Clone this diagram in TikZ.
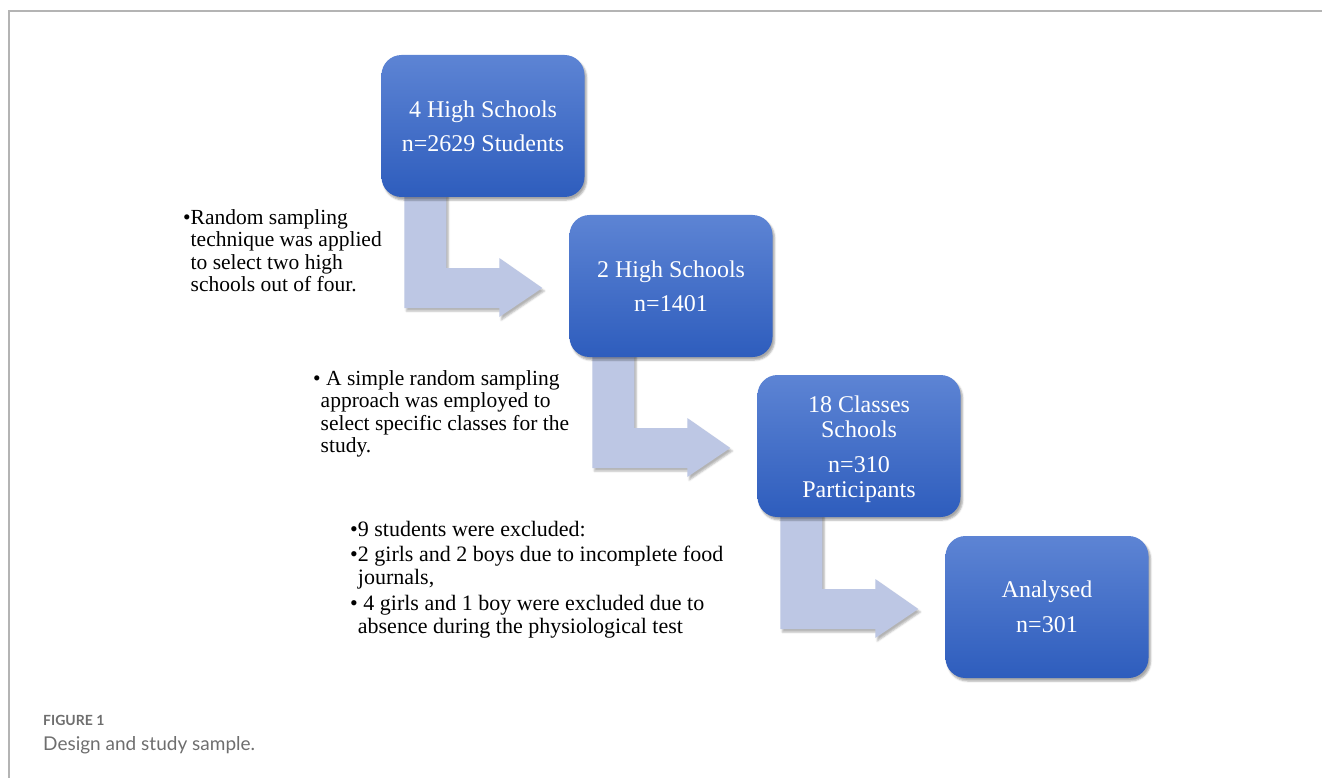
\documentclass[tikz,border=0pt]{standalone}
\usepackage{fontspec}
\setmainfont{Liberation Serif}
\newfontfamily\capfont{Lato}
\usetikzlibrary{calc,shadows,shadows.blur,backgrounds}

\definecolor{boxtop}{HTML}{5D84D4}
\definecolor{boxbot}{HTML}{2E5DBD}
\definecolor{arrowfill}{HTML}{BDC7E4}
\definecolor{framegray}{HTML}{B4B4B4}
\definecolor{capgray}{HTML}{6E6E6E}

\tikzset{
  stagebox/.style={rectangle, rounded corners=20pt, minimum width=203pt,
    minimum height=142pt, inner sep=0pt, top color=boxtop, bottom color=boxbot,
    blur shadow={shadow xshift=2pt, shadow yshift=-3pt, shadow opacity=35},
    text=white, align=center, font=\fontsize{24}{25}\selectfont},
  note/.style={anchor=north west, inner sep=0pt, align=left,
    font=\fontsize{21.5}{22.5}\selectfont},
  flowarrow/.style={fill=arrowfill,
    blur shadow={shadow xshift=2pt, shadow yshift=-3pt, shadow opacity=30}}
}

% bent block arrow from box #1 down and right to box #2
\newcommand\bentarrow[2]{%
  \fill[flowarrow] let \p1=(#1.south west), \p2=(#2.west) in
    (\x1+23pt,\y1+4pt) -- (\x1+65pt,\y1+4pt) -- (\x1+65pt,\y2+18pt)
    -- (\x2-70pt,\y2+18pt) -- (\x2-70pt,\y2+28pt) -- (\x2-27pt,\y2-2pt)
    -- (\x2-70pt,\y2-31pt) -- (\x2-70pt,\y2-22pt) -- (\x1+23pt,\y2-22pt) -- cycle;}

\begin{document}
\begin{tikzpicture}[x=1pt, y=-1pt]
  \useasboundingbox (0,0) rectangle (1322,778);
  \draw[framegray, line width=1.6pt] (9,778) -- (9,11) -- (1322,11);

  \node[stagebox] (b1) at (483,126) {4 High Schools\\[9pt] n=2629 Students};
  \node[stagebox] (b2) at (671,286) {2 High Schools\\[9pt] n=1401};
  \node[stagebox] (b3) at (859,446) {\rule{0pt}{23pt}18 Classes\\Schools\\[10pt] n=310\\Participants};
  \node[stagebox] (b4) at (1047,607) {Analysed\\[10pt] n=301};

  \begin{scope}[on background layer]
    \bentarrow{b1}{b2}
    \bentarrow{b2}{b3}
    \bentarrow{b3}{b4}
  \end{scope}

  \node[note] (t1) at (183,209) {\textbullet Random sampling\\
    \phantom{\textbullet}technique was applied\\
    \phantom{\textbullet}to select two high\\
    \phantom{\textbullet}schools out of four.};
  \node[note] (t2) at (313,370) {\textbullet\ A simple random sampling\\
    \phantom{\textbullet}approach was employed to\\
    \phantom{\textbullet}select specific classes for the\\
    \phantom{\textbullet}study.};
  \node[note, font=\fontsize{22}{22.5}\selectfont] (t3) at (350,521) {\textbullet 9 students were excluded:\\[3pt]
    \textbullet 2 girls and 2 boys due to incomplete food\\
    \phantom{\textbullet}journals,\\[4pt]
    \textbullet\ 4 girls and 1 boy were excluded due to\\
    \phantom{\textbullet}absence during the physiological test};

  % caption
  \node[anchor=west, inner sep=0pt, text=capgray, font=\capfont\bfseries\fontsize{14}{15}\selectfont] (fig) at (43,720) {FIGURE 1};
  \node[anchor=west, inner sep=0pt, text=capgray, font=\capfont\fontsize{19}{21}\selectfont] (cap) at (43,745) {Design and study sample.};
\end{tikzpicture}
\end{document}
